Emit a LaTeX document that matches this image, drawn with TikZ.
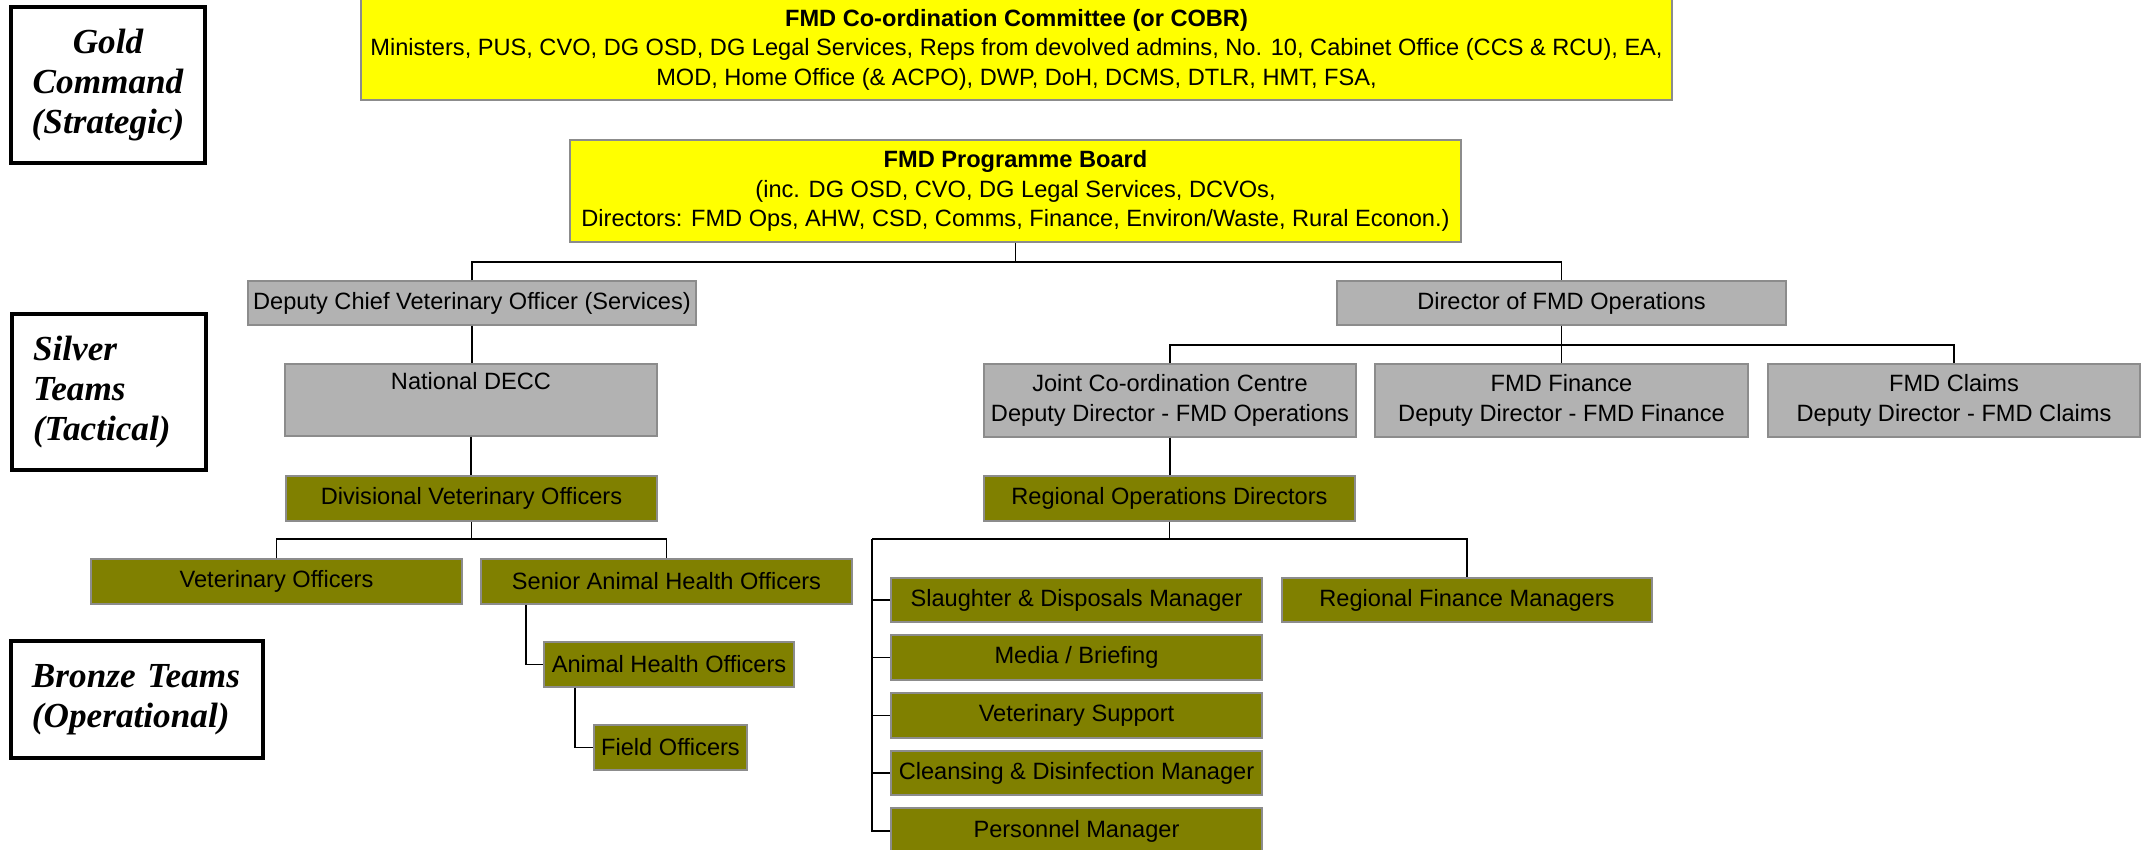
\documentclass[tikz,border=0pt]{standalone}
\usepackage{fontspec}
\setmainfont{Liberation Sans}
\newfontfamily\tierfont{Liberation Serif}

\definecolor{boxline}{RGB}{140,140,140}
\definecolor{boxgray}{RGB}{178,178,178}
\definecolor{boxolive}{RGB}{128,128,0}
\definecolor{boxyellow}{RGB}{255,255,0}

\newcommand{\orgfont}{\fontsize{11.8}{14.8}\selectfont}
\newcommand{\tierstyle}{\tierfont\bfseries\itshape\fontsize{17.6}{20.2}\selectfont}

% a box given by its corners (in pixel units): [style], name, x1, y1, x2, y2, text
\newcommand{\orgnode}[7][]{%
  \node[#1, minimum width={(#5-#3)*0.5pt}, minimum height={(#6-#4)*0.5pt}]
    (#2) at ({(#3+#5)/2},{(#4+#6)/2}) {#7};}

\tikzset{
  orgbox/.style={draw=boxline, line width=0.7pt, inner sep=0pt, align=center, font=\orgfont},
  yelbox/.style={orgbox, fill=boxyellow},
  grybox/.style={orgbox, fill=boxgray},
  olvbox/.style={orgbox, fill=boxolive},
  tierbox/.style={draw=black, line width=1.8pt, inner sep=0pt, font=\tierstyle},
  link/.style={draw=black, line width=0.85pt},
}

\begin{document}
\begin{tikzpicture}[x=0.5pt, y=-0.5pt]
\useasboundingbox (0,0) rectangle (2152,850);

% command level labels
\orgnode[tierbox, align=center]{gold}{11}{7}{205}{163}{Gold\\Command\\(Strategic)}
\orgnode[tierbox, align=left, text width=76pt]{silver}{12}{314}{206}{470}{Silver\\Teams\\(Tactical)}
\orgnode[tierbox, align=left, text width=105pt]{bronze}{11}{641}{263}{758}{Bronze Teams\\(Operational)}

% gold
\orgnode[yelbox]{cobr}{361}{-1}{1672}{100}{\textbf{FMD Co-ordination Committee (or COBR)}\\
  Ministers, PUS, CVO, DG OSD, DG Legal Services, Reps from devolved admins, No. 10, Cabinet Office (CCS \& RCU), EA,\\
  MOD, Home Office (\& ACPO), DWP, DoH, DCMS, DTLR, HMT, FSA,}
\orgnode[yelbox]{board}{570}{140}{1461}{242}{\textbf{FMD Programme Board}\\
  (inc. DG OSD, CVO, DG Legal Services, DCVOs,\\
  Directors: FMD Ops, AHW, CSD, Comms, Finance, Environ/Waste, Rural Econon.)}

% silver
\orgnode[grybox]{dcvo}{248}{281}{696}{325}{Deputy Chief Veterinary Officer (Services)}
\orgnode[grybox]{dirops}{1337}{281}{1786}{325}{Director of FMD Operations}
\orgnode[grybox]{decc}{285}{364}{657}{436}{National DECC\\\strut}
\orgnode[grybox]{jcc}{984}{364}{1356}{437}{Joint Co-ordination Centre\\Deputy Director - FMD Operations}
\orgnode[grybox]{fin}{1375}{364}{1748}{437}{FMD Finance\\Deputy Director - FMD Finance}
\orgnode[grybox]{claims}{1768}{364}{2140}{437}{FMD Claims\\Deputy Director - FMD Claims}

% bronze, veterinary side
\orgnode[olvbox]{dvo}{286}{476}{657}{521}{Divisional Veterinary Officers}
\orgnode[olvbox]{vo}{91}{559}{462}{604}{Veterinary Officers}
\orgnode[olvbox]{saho}{481}{559}{852}{604}{Senior Animal Health Officers}
\orgnode[olvbox]{aho}{544}{642}{794}{687}{Animal Health Officers}
\orgnode[olvbox]{fo}{594}{725}{747}{770}{Field Officers}

% bronze, operations side
\orgnode[olvbox]{rod}{984}{476}{1355}{521}{Regional Operations Directors}
\orgnode[olvbox]{slaughter}{891}{578}{1262}{622}{Slaughter \& Disposals Manager}
\orgnode[olvbox]{media}{891}{635}{1262}{680}{Media / Briefing}
\orgnode[olvbox]{vetsup}{891}{693}{1262}{738}{Veterinary Support}
\orgnode[olvbox]{cleansing}{891}{751}{1262}{795}{Cleansing \& Disinfection Manager}
\orgnode[olvbox]{personnel}{891}{808}{1262}{854}{Personnel Manager}
\orgnode[olvbox]{rfm}{1282}{578}{1652}{622}{Regional Finance Managers}

% bus levels
\coordinate (busTop) at (0,262);
\coordinate (busOps) at (0,345);
\coordinate (busDvo) at (0,539);
\coordinate (busRod) at (0,539);
\coordinate (spine) at (872,539);

% connectors
\draw[link] (board.south) -- (board.south |- busTop);
\draw[link] (dcvo.north) -- (dcvo.north |- busTop) -| (dirops.north);
\draw[link] (dcvo.south) -- (dcvo.south |- decc.north);
\draw[link] (decc.south) -- (decc.south |- dvo.north);
\draw[link] (dvo.south) -- (dvo.south |- busDvo);
\draw[link] (vo.north) -- (vo.north |- busDvo) -| (saho.north);
\draw[link] ([xshift=23pt]saho.south west) |- (aho.west);
\draw[link] ([xshift=16pt]aho.south west) |- (fo.west);

\draw[link] (dirops.south) -- (dirops.south |- busOps);
\draw[link] (jcc.north) -- (jcc.north |- busOps) -| (claims.north);
\draw[link] (fin.north) -- (fin.north |- busOps);
\draw[link] (jcc.south) -- (jcc.south |- rod.north);
\draw[link] (rod.south) -- (rod.south |- busRod);
\draw[link] (spine) -| (rfm.north);
\draw[link] (spine) |- (personnel.west);
\draw[link] (spine |- slaughter.west) -- (slaughter.west);
\draw[link] (spine |- media.west) -- (media.west);
\draw[link] (spine |- vetsup.west) -- (vetsup.west);
\draw[link] (spine |- cleansing.west) -- (cleansing.west);
\end{tikzpicture}
\end{document}
